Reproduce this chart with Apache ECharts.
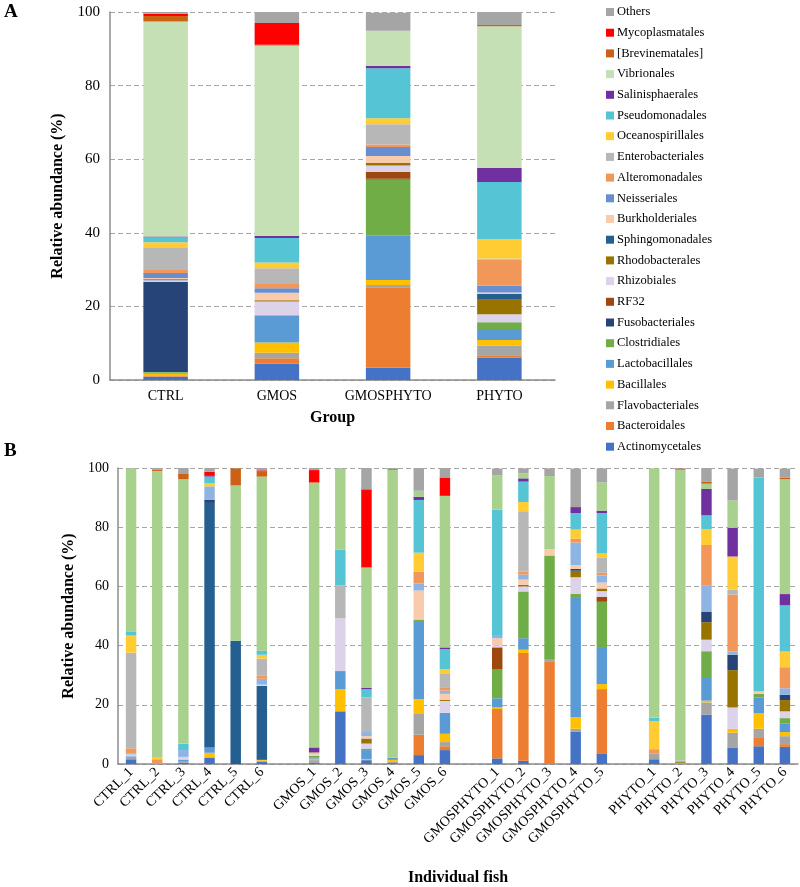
<!DOCTYPE html>
<html>
<head>
<meta charset="utf-8">
<script src="https://cdn.jsdelivr.net/npm/echarts@6/dist/echarts.min.js"></script>
<style>html,body{margin:0;padding:0;background:#fff}#c{width:800px;height:887px}</style>
</head>
<body>
<div id="c"></div>
<script>
// ---------- categories ----------
const groupsA = ['CTRL', 'GMOS', 'GMOSPHYTO', 'PHYTO'];
const fishB = ['CTRL_1','CTRL_2','CTRL_3','CTRL_4','CTRL_5','CTRL_6',
  'GMOS_1','GMOS_2','GMOS_3','GMOS_4','GMOS_5','GMOS_6',
  'GMOSPHYTO_1','GMOSPHYTO_2','GMOSPHYTO_3','GMOSPHYTO_4','GMOSPHYTO_5',
  'PHYTO_1','PHYTO_2','PHYTO_3','PHYTO_4','PHYTO_5','PHYTO_6'];
const groupSizesB = [6, 6, 5, 6];
const yTicks = [0, 20, 40, 60, 80, 100];

// series names, bottom of the stack to top
const orders = ['Actinomycetales','Bacteroidales','Flavobacteriales','Bacillales','Lactobacillales',
  'Clostridiales','Fusobacteriales','RF32','Rhizobiales','Rhodobacterales','Sphingomonadales',
  'Burkholderiales','Neisseriales','Alteromonadales','Enterobacteriales','Oceanospirillales',
  'Pseudomonadales','Salinisphaerales','Vibrionales','[Brevinematales]','Mycoplasmatales','Others'];

// ---------- panel A values (CTRL, GMOS, GMOSPHYTO, PHYTO) ----------
const aActinomycetales   = [0.8, 4.5, 3.3, 6.1];
const aBacteroidales     = [0.2, 1.4, 21.9, 0.6];
const aFlavobacteriales  = [0.3, 1.5, 0.6, 2.7];
const aBacillales        = [0.4, 2.8, 1.4, 1.5];
const aLactobacillales   = [0.3, 7.2, 12.0, 2.7];
const aClostridiales     = [0.2, 0.2, 15.3, 2.1];
const aFusobacteriales   = [24.4, 0, 0.2, 0];
const aRF32              = [0, 0, 1.8, 0];
const aRhizobiales       = [0.5, 3.7, 1.8, 2.2];
const aRhodobacterales   = [0, 0.4, 0.7, 3.9];
const aSphingomonadales  = [0.3, 0, 0, 1.6];
const aBurkholderiales   = [0.3, 2.0, 1.9, 0.4];
const aNeisseriales      = [1.4, 1.2, 2.4, 1.8];
const aAlteromonadales   = [0.8, 1.2, 0.7, 7.1];
const aEnterobacteriales = [6.2, 4.3, 5.5, 0.3];
const aOceanospirillales = [1.3, 1.5, 1.6, 5.3];
const aPseudomonadales   = [1.4, 6.7, 13.6, 15.5];
const aSalinisphaerales  = [0.2, 0.6, 0.7, 3.8];
const aVibrionales       = [58.4, 51.7, 9.5, 38.5];
const aBrevinematales    = [1.5, 0.2, 0, 0.4];
const aMycoplasmatales   = [0.6, 5.9, 0, 0];
const aOthers            = [0.5, 3.0, 4.9, 3.6];

// ---------- panel B values (23 fish, order of fishB) ----------
//                           C1   C2   C3   C4   C5   C6   G1   G2   G3   G4   G5   G6   GP1  GP2  GP3  GP4  GP5  P1   P2   P3   P4   P5   P6
const bActinomycetales   = [1.6, 0,   0.5, 2.2, 0,   0.8, 0.5, 17.8,1.3, 0.3, 3.0, 4.7, 1.9, 1.1, 0,   11.0,3.6, 1.6, 0,   16.7,5.6, 6.0, 5.8];
const bBacteroidales     = [0,   0,   0,   0,   0,   0,   0,   0,   0,   0,   6.9, 1.3, 16.7,36.4,34.7,0,   21.7,0,   0,   0,   0,   2.8, 0.9];
const bFlavobacteriales  = [0.5, 0,   0.5, 0,   0,   0.3, 0.8, 0,   0,   0.6, 7.0, 1.4, 0,   0,   0.8, 0.9, 0,   2.0, 0.4, 4.1, 5.0, 3.1, 2.7];
const bBacillales        = [0,   0,   0,   1.6, 0,   0.3, 0.5, 7.5, 0.4, 0.5, 5.0, 2.8, 0.5, 1.1, 0,   3.9, 1.7, 0,   0,   0.6, 1.3, 5.2, 1.4];
const bLactobacillales   = [0.5, 0,   0.5, 1.8, 0,   0,   0.5, 6.1, 3.0, 0.7, 26.4,7.1, 3.1, 3.9, 0,   40.3,12.2,0,   0,   8.0, 0,   5.3, 2.8];
const bClostridiales     = [0,   0,   0,   0,   0,   0,   0.5, 0,   0.5, 0,   0.5, 0,   9.7, 15.8,34.9,1.4, 15.6,0,   0,   8.7, 0,   1.3, 1.9];
const bFusobacteriales   = [0,   0,   0,   82.6,41.6,25.0,0,   0,   0,   0,   0,   0,   0,   0,   0,   0,   0,   0,   0,   0,   0,   0,   0];
const bRF32              = [0,   0,   0,   0,   0,   0,   0,   0,   0,   0,   0,   0,   7.5, 0,   0,   0,   1.7, 0,   0,   0,   0,   0,   0];
const bRhizobiales       = [0.6, 0,   0.9, 0,   0,   0.4, 0.5, 17.8,1.7, 0,   0,   4.0, 0.6, 1.7, 0,   5.6, 1.9, 0,   0,   3.9, 7.2, 0,   2.3];
const bRhodobacterales   = [0,   0,   0,   0,   0,   0,   0,   0,   1.7, 0,   0,   0.4, 0,   0.5, 0,   2.2, 0.9, 0,   0.4, 5.9, 12.6,0,   3.8];
const bSphingomonadales  = [0,   0,   0,   1.0, 0,   0,   0,   0,   0,   0,   0,   0,   0,   0,   0,   0.6, 0,   0,   0,   3.6, 5.2, 0,   1.8];
const bBurkholderiales   = [0,   0,   0,   0,   0,   0,   0,   0,   0.8, 0,   9.8, 2.0, 2.5, 1.8, 2.2, 1.3, 2.0, 0,   0,   0,   0,   0.9, 0];
const bNeisseriales      = [0.4, 0,   2.3, 4.6, 0,   2.0, 0,   0,   1.4, 0,   2.4, 1.1, 1.1, 1.7, 0,   7.6, 2.4, 0,   0.4, 8.7, 1.1, 0,   2.2];
const bAlteromonadales   = [1.7, 1.6, 0,   0,   0,   1.0, 0,   0,   0,   0,   3.9, 0.9, 0,   1.0, 0,   1.3, 0.9, 1.4, 0,   13.8,19.2,0,   7.1];
const bEnterobacteriales = [32.3,0,   0,   0,   0,   5.8, 0,   11.1,11.7,0,   0,   4.7, 0,   20.4,0,   0,   5.2, 0,   0,   0,   1.7, 0,   0];
const bOceanospirillales = [5.8, 0.8, 0,   1.0, 0,   1.3, 0.6, 0,   0,   0,   6.5, 1.7, 0,   3.1, 0,   3.1, 1.3, 9.4, 0,   5.3, 11.2,0,   5.3];
const bPseudomonadales   = [1.4, 0,   2.2, 2.3, 0,   1.4, 0,   12.2,2.8, 0,   17.8,6.7, 42.3,6.9, 0,   5.6, 13.7,1.2, 0,   4.7, 0,   72.2,15.6];
const bSalinisphaerales  = [0,   0,   0,   0.5, 0,   0,   1.7, 0,   0.5, 0,   1.1, 0.6, 0,   1.1, 0,   2.0, 0.8, 0,   0,   8.9, 9.7, 0,   3.8];
const bVibrionales       = [55.1,96.6,89.3,0,   52.5,58.8,89.5,27.3,40.6,97.3,2.0, 51.2,11.7,1.7, 24.7,0,   9.5, 84.3,98.2,1.8, 9.2, 0,   38.8];
const bBrevinematales    = [0,   0.5, 2.0, 0,   5.8, 1.7, 0,   0,   0,   0.3, 0,   0,   0,   0,   0,   0,   0,   0,   0.2, 0.6, 0,   0,   0.5];
const bMycoplasmatales   = [0,   0,   0,   1.1, 0,   0.4, 4.2, 0,   26.4,0,   0,   6.2, 0,   0,   0,   0,   0,   0,   0.2, 0,   0,   0,   0];
const bOthers            = [0.1, 0.5, 1.8, 1.3, 0.1, 0.8, 0.7, 0.2, 7.2, 0.3, 7.7, 3.2, 2.2, 1.7, 2.6, 13.0,4.8, 0,   0.2, 4.7, 10.8,3.0, 3.1];

const valuesA = {Actinomycetales:aActinomycetales, Bacteroidales:aBacteroidales, Flavobacteriales:aFlavobacteriales,
  Bacillales:aBacillales, Lactobacillales:aLactobacillales, Clostridiales:aClostridiales, Fusobacteriales:aFusobacteriales,
  RF32:aRF32, Rhizobiales:aRhizobiales, Rhodobacterales:aRhodobacterales, Sphingomonadales:aSphingomonadales,
  Burkholderiales:aBurkholderiales, Neisseriales:aNeisseriales, Alteromonadales:aAlteromonadales,
  Enterobacteriales:aEnterobacteriales, Oceanospirillales:aOceanospirillales, Pseudomonadales:aPseudomonadales,
  Salinisphaerales:aSalinisphaerales, Vibrionales:aVibrionales, '[Brevinematales]':aBrevinematales,
  Mycoplasmatales:aMycoplasmatales, Others:aOthers};
const valuesB = {Actinomycetales:bActinomycetales, Bacteroidales:bBacteroidales, Flavobacteriales:bFlavobacteriales,
  Bacillales:bBacillales, Lactobacillales:bLactobacillales, Clostridiales:bClostridiales, Fusobacteriales:bFusobacteriales,
  RF32:bRF32, Rhizobiales:bRhizobiales, Rhodobacterales:bRhodobacterales, Sphingomonadales:bSphingomonadales,
  Burkholderiales:bBurkholderiales, Neisseriales:bNeisseriales, Alteromonadales:bAlteromonadales,
  Enterobacteriales:bEnterobacteriales, Oceanospirillales:bOceanospirillales, Pseudomonadales:bPseudomonadales,
  Salinisphaerales:bSalinisphaerales, Vibrionales:bVibrionales, '[Brevinematales]':bBrevinematales,
  Mycoplasmatales:bMycoplasmatales, Others:bOthers};

// ---------- styles ----------
const colorsA = {Actinomycetales:'#4472C4', Bacteroidales:'#ED7D31', Flavobacteriales:'#A5A5A5', Bacillales:'#FFC000',
  Lactobacillales:'#5B9BD5', Clostridiales:'#70AD47', Fusobacteriales:'#264478', RF32:'#9E480E',
  Rhizobiales:'#DCD2E9', Rhodobacterales:'#997300', Sphingomonadales:'#255E91', Burkholderiales:'#F8CBAD',
  Neisseriales:'#698ED0', Alteromonadales:'#F1975A', Enterobacteriales:'#B7B7B7', Oceanospirillales:'#FFCD33',
  Pseudomonadales:'#55C4D5', Salinisphaerales:'#7030A0', Vibrionales:'#C5E0B4', '[Brevinematales]':'#CC6115',
  Mycoplasmatales:'#FF0000', Others:'#A5A5A5'};
const colorsB = Object.assign({}, colorsA, {Vibrionales:'#A9D18E', Fusobacteriales:'#255E91',
  Sphingomonadales:'#264478', Neisseriales:'#8EB4E3'});

const FONT = "'Liberation Serif', 'Times New Roman', serif";

// build panel B slots with blank gaps between groups
const slotsB = [];
const slotIndex = [];
let k = 0;
groupSizesB.forEach((n, gi) => {
  for (let i = 0; i < n; i++) { slotIndex.push(slotsB.length); slotsB.push(fishB[k++]); }
  if (gi < groupSizesB.length - 1) slotsB.push('');
});
function toSlots(arr) {
  const out = slotsB.map(() => '-');
  arr.forEach((v, i) => { out[slotIndex[i]] = v; });
  return out;
}

const series = [];
orders.forEach(name => {
  series.push({name, type:'bar', stack:'a', xAxisIndex:0, yAxisIndex:0, barWidth:'40%',
    itemStyle:{color:colorsA[name]}, data:valuesA[name], emphasis:{disabled:true}});
});
orders.forEach(name => {
  series.push({name, type:'bar', stack:'b', xAxisIndex:1, yAxisIndex:1, barWidth:'40%',
    itemStyle:{color:colorsB[name]}, data:toSlots(valuesB[name]), emphasis:{disabled:true}});
});

const yAxisCommon = {
  type:'value', min:yTicks[0], max:yTicks[yTicks.length-1], interval:yTicks[1]-yTicks[0],
  axisLine:{show:true, lineStyle:{color:'#8C8C8C', width:1.5}},
  axisTick:{show:false},
  splitLine:{show:true, lineStyle:{color:'#A6A6A6', type:[5,3], width:1}},
  nameLocation:'middle', nameRotate:90,
  nameTextStyle:{fontFamily:FONT, fontWeight:'bold', fontSize:16, color:'#000'},
  name:'Relative abundance (%)'
};

const chart = echarts.init(document.getElementById('c'), null, {renderer:'canvas'});
chart.setOption({
  animation:false,
  backgroundColor:'#fff',
  textStyle:{fontFamily:FONT},
  grid:[
    {left:110, top:12, width:445, height:368},
    {left:118, top:468, width:680, height:299}
  ],
  legend:{
    data:orders.slice().reverse(),
    orient:'vertical', left:601, top:0,
    icon:'rect', itemWidth:8, itemHeight:8, itemGap:6.7,
    selectedMode:false,
    textStyle:{fontFamily:FONT, fontSize:12.5, color:'#000', lineHeight:14, padding:[0,0,0,-2]}
  },
  xAxis:[
    {type:'category', gridIndex:0, data:groupsA,
      axisLine:{lineStyle:{color:'#8C8C8C', width:1.5}}, axisTick:{show:false},
      axisLabel:{fontFamily:FONT, fontSize:14, color:'#000', margin:9, interval:0},
      name:'Group', nameLocation:'middle', nameGap:30,
      nameTextStyle:{fontFamily:FONT, fontWeight:'bold', fontSize:16, color:'#000'}},
    {type:'category', gridIndex:1, data:slotsB,
      axisLine:{lineStyle:{color:'#8C8C8C', width:1.5}}, axisTick:{show:false},
      axisLabel:{fontFamily:FONT, fontSize:14, color:'#000', rotate:45, interval:0, margin:6},
      name:'Individual fish', nameLocation:'middle', nameGap:106,
      nameTextStyle:{fontFamily:FONT, fontWeight:'bold', fontSize:16, color:'#000'}}
  ],
  yAxis:[
    Object.assign({}, yAxisCommon, {gridIndex:0, nameGap:44,
      axisLabel:{fontFamily:FONT, fontSize:15, color:'#000', margin:10}}),
    Object.assign({}, yAxisCommon, {gridIndex:1, nameGap:40,
      axisLabel:{fontFamily:FONT, fontSize:14, color:'#000', margin:9}})
  ],
  graphic:[
    {type:'text', left:4, top:3, style:{text:'A', font:"bold 19px 'Liberation Serif', serif", fill:'#000'}},
    {type:'text', left:4, top:442, style:{text:'B', font:"bold 19px 'Liberation Serif', serif", fill:'#000'}}
  ],
  series
});
</script>
</body>
</html>
